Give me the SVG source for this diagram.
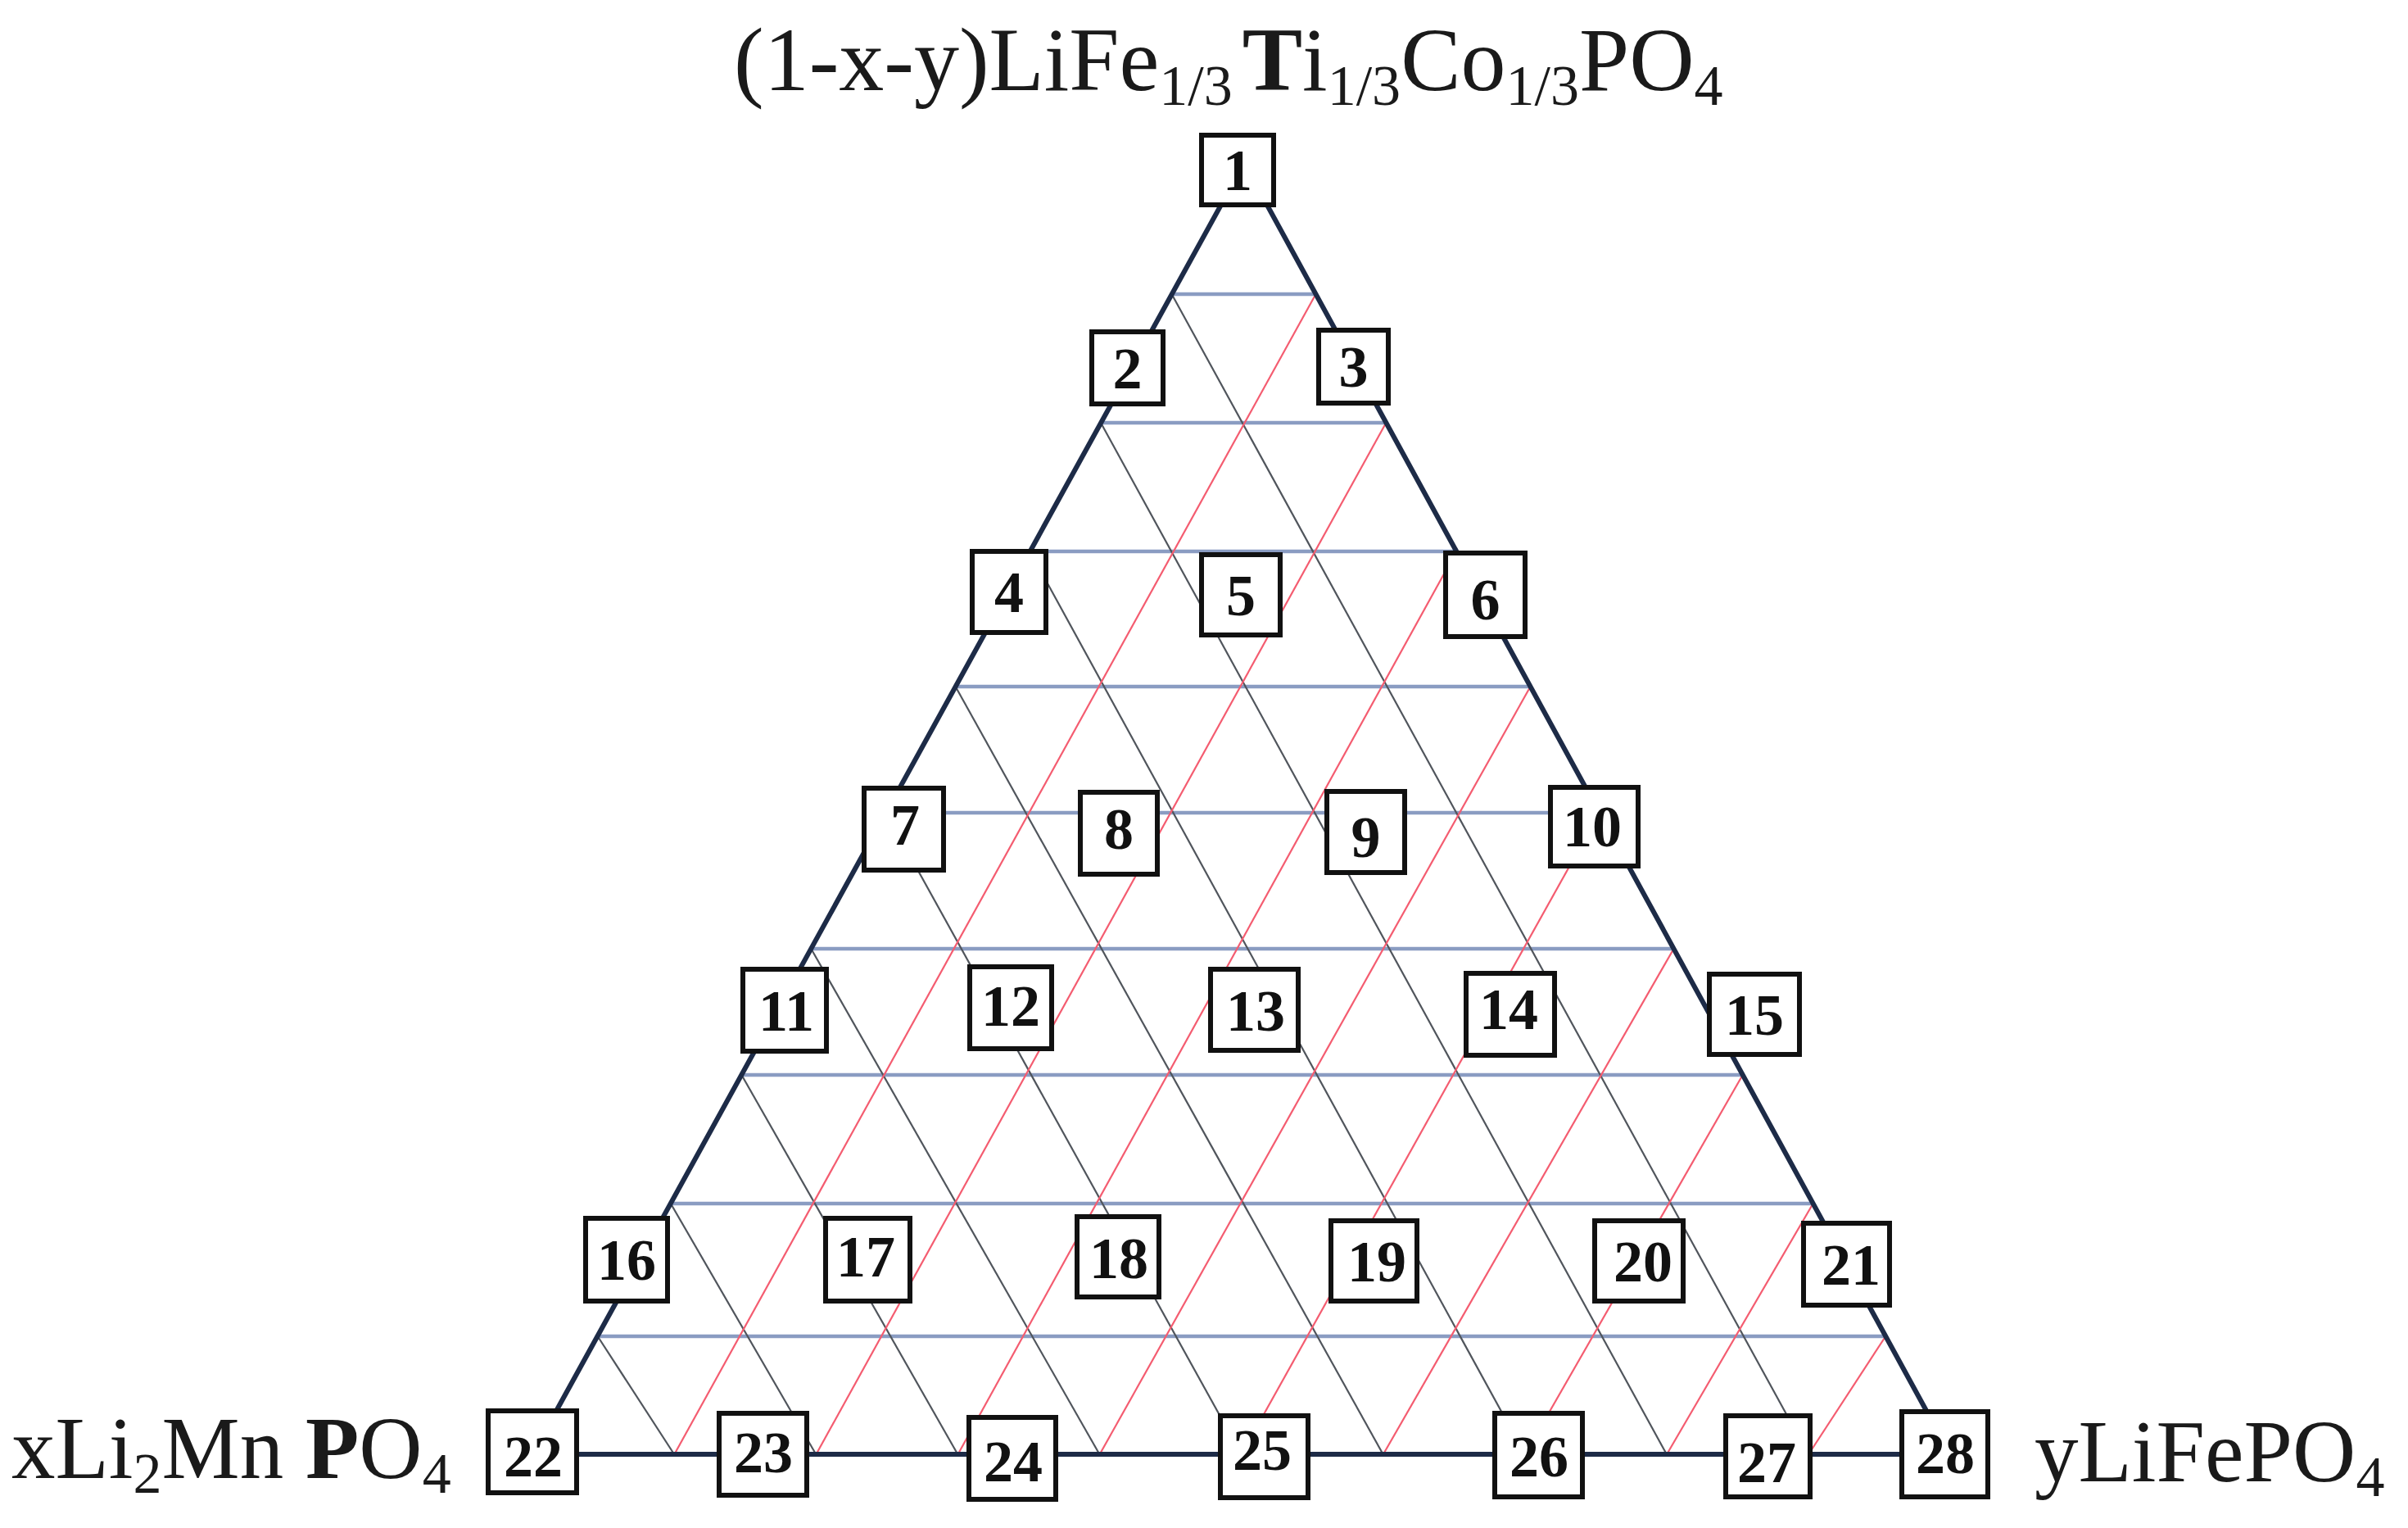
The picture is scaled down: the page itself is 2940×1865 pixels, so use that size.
<svg xmlns="http://www.w3.org/2000/svg" width="2940" height="1865" viewBox="0 0 2940 1865">
<style>
.h{stroke:#8a9cc2;stroke-width:4.5;fill:none}
.g{stroke:#50555c;stroke-width:2.2;fill:none}
.r{stroke:#f45c70;stroke-width:2.2;fill:none}
.edge{stroke:#1d2b47;stroke-width:6;fill:none;stroke-linejoin:round}
.box rect{fill:#ffffff;stroke:#111111;stroke-width:6}
.box text{font-family:"Liberation Serif","Times New Roman",serif;font-weight:bold;font-size:72px;fill:#111111;text-anchor:middle}
.lbl{font-family:"Liberation Serif","Times New Roman",serif;font-size:107px;fill:#1a1a1a}
.sub{font-size:70px}
.title{font-size:110px}
.title .sub{font-size:70px}
</style>
<rect width="2940" height="1865" fill="#ffffff"/>
<g id="connectors">
<g id="horizontal-lines">
<line class="h" x1="1430.6" y1="359" x2="1606.5" y2="359"/>
<line class="h" x1="1344.0" y1="516" x2="1692.3" y2="516"/>
<line class="h" x1="1257.5" y1="673" x2="1778.2" y2="673"/>
<line class="h" x1="1166.6" y1="838" x2="1868.5" y2="838"/>
<line class="h" x1="1081.8" y1="992" x2="1952.7" y2="992"/>
<line class="h" x1="990.3" y1="1158" x2="2043.5" y2="1158"/>
<line class="h" x1="905.4" y1="1312" x2="2127.7" y2="1312"/>
<line class="h" x1="818.9" y1="1469" x2="2213.6" y2="1469"/>
<line class="h" x1="729.7" y1="1631" x2="2302.2" y2="1631"/>
</g>
<g id="gray-lines">
<line class="g" x1="1430.6" y1="359" x2="2207.9" y2="1775"/>
<line class="g" x1="1344.0" y1="516" x2="2034.8" y2="1775"/>
<line class="g" x1="1257.5" y1="673" x2="1861.7" y2="1775"/>
<line class="g" x1="1166.6" y1="838" x2="1688.6" y2="1775"/>
<line class="g" x1="1081.8" y1="992" x2="1515.5" y2="1775"/>
<line class="g" x1="990.3" y1="1158" x2="1342.4" y2="1775"/>
<line class="g" x1="905.4" y1="1312" x2="1169.3" y2="1775"/>
<line class="g" x1="818.9" y1="1469" x2="996.2" y2="1775"/>
<line class="g" x1="729.7" y1="1631" x2="823.1" y2="1775"/>
</g>
<g id="red-lines">
<line class="r" x1="1606.5" y1="359" x2="823.4" y2="1775"/>
<line class="r" x1="1692.3" y1="516" x2="996.5" y2="1775"/>
<line class="r" x1="1778.2" y1="673" x2="1169.6" y2="1775"/>
<line class="r" x1="1868.5" y1="838" x2="1342.7" y2="1775"/>
<line class="r" x1="1952.7" y1="992" x2="1515.8" y2="1775"/>
<line class="r" x1="2043.5" y1="1158" x2="1688.9" y2="1775"/>
<line class="r" x1="2127.7" y1="1312" x2="1862.0" y2="1775"/>
<line class="r" x1="2213.6" y1="1469" x2="2035.1" y2="1775"/>
<line class="r" x1="2302.2" y1="1631" x2="2208.2" y2="1775"/>
</g>
<polygon id="triangle" class="edge" points="1519,199 650,1775 2381,1775"/>
</g>
<g id="nodes">
<g id="n1" class="box"><rect x="1467" y="165" width="88" height="85"/><text x="1511" y="232">1</text></g>
<g id="n2" class="box"><rect x="1333" y="405" width="87" height="88"/><text x="1376.5" y="474">2</text></g>
<g id="n3" class="box"><rect x="1610" y="403" width="85" height="89"/><text x="1652.5" y="472">3</text></g>
<g id="n4" class="box"><rect x="1187" y="673" width="90" height="99"/><text x="1232" y="747">4</text></g>
<g id="n5" class="box"><rect x="1467" y="677" width="96" height="98"/><text x="1515" y="751">5</text></g>
<g id="n6" class="box"><rect x="1765" y="675" width="97" height="102"/><text x="1813.5" y="756">6</text></g>
<g id="n7" class="box"><rect x="1055" y="962" width="97" height="100"/><text x="1105" y="1031">7</text></g>
<g id="n8" class="box"><rect x="1319" y="967" width="94" height="100"/><text x="1366" y="1036">8</text></g>
<g id="n9" class="box"><rect x="1620" y="966" width="95" height="99"/><text x="1667.5" y="1046">9</text></g>
<g id="n10" class="box"><rect x="1893" y="961" width="107" height="96"/><text x="1944" y="1033">10</text></g>
<g id="n11" class="box"><rect x="907" y="1183" width="102" height="100"/><text x="960" y="1258">11</text></g>
<g id="n12" class="box"><rect x="1184" y="1180" width="100" height="100"/><text x="1234" y="1252">12</text></g>
<g id="n13" class="box"><rect x="1478" y="1183" width="107" height="99"/><text x="1533" y="1258">13</text></g>
<g id="n14" class="box"><rect x="1790" y="1188" width="108" height="100"/><text x="1842" y="1256">14</text></g>
<g id="n15" class="box"><rect x="2087" y="1189" width="110" height="98"/><text x="2142" y="1263">15</text></g>
<g id="n16" class="box"><rect x="715" y="1487" width="100" height="101"/><text x="765" y="1562">16</text></g>
<g id="n17" class="box"><rect x="1008" y="1487" width="103" height="101"/><text x="1057" y="1558">17</text></g>
<g id="n18" class="box"><rect x="1315" y="1485" width="100" height="98"/><text x="1366" y="1560">18</text></g>
<g id="n19" class="box"><rect x="1625" y="1490" width="105" height="98"/><text x="1681" y="1564">19</text></g>
<g id="n20" class="box"><rect x="1947" y="1490" width="108" height="98"/><text x="2006" y="1564">20</text></g>
<g id="n21" class="box"><rect x="2202" y="1493" width="105" height="100"/><text x="2260" y="1568">21</text></g>
<g id="n22" class="box"><rect x="596" y="1722" width="108" height="100"/><text x="651" y="1802">22</text></g>
<g id="n23" class="box"><rect x="878" y="1725" width="107" height="100"/><text x="932" y="1797">23</text></g>
<g id="n24" class="box"><rect x="1183" y="1730" width="106" height="100"/><text x="1237" y="1808">24</text></g>
<g id="n25" class="box"><rect x="1490" y="1728" width="107" height="100"/><text x="1541" y="1794">25</text></g>
<g id="n26" class="box"><rect x="1825" y="1725" width="107" height="102"/><text x="1879" y="1802">26</text></g>
<g id="n27" class="box"><rect x="2107" y="1728" width="103" height="99"/><text x="2157" y="1809">27</text></g>
<g id="n28" class="box"><rect x="2322" y="1723" width="105" height="104"/><text x="2375" y="1798">28</text></g>
</g>
<g id="labels">
<text id="top-label" class="lbl title" x="896" y="110">(1-x-y)LiFe<tspan class="sub" dy="18">1/3</tspan><tspan dy="-18" dx="12" font-weight="bold">T</tspan>i<tspan class="sub" dy="18">1/3</tspan><tspan dy="-18">Co</tspan><tspan class="sub" dy="18">1/3</tspan><tspan dy="-18">PO</tspan><tspan class="sub" dy="18">4</tspan></text>
<text id="left-label" class="lbl" x="14" y="1804">xLi<tspan class="sub" dy="18">2</tspan><tspan dy="-18">Mn </tspan><tspan font-weight="bold">P</tspan>O<tspan class="sub" dy="18">4</tspan></text>
<text id="right-label" class="lbl" x="2484" y="1808">yLiFePO<tspan class="sub" dy="18">4</tspan></text>
</g>
</svg>
